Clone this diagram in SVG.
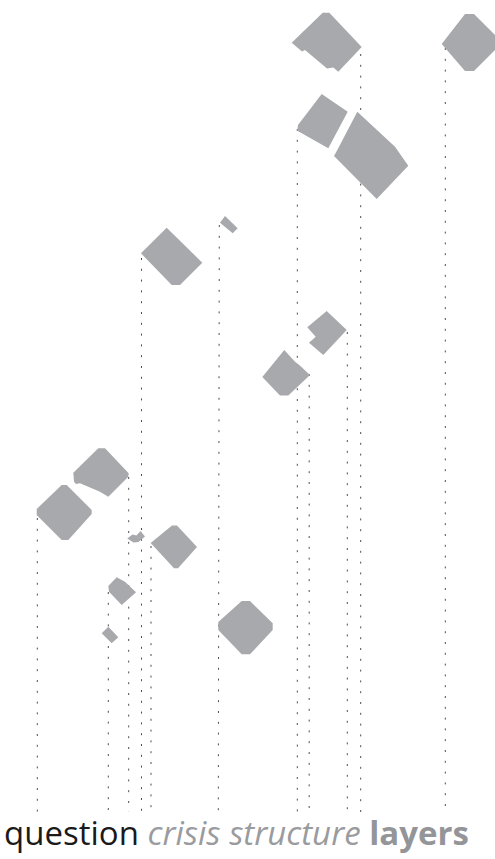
<svg xmlns="http://www.w3.org/2000/svg" width="495" height="859" viewBox="0 0 495 859">
<style>
.s{fill:#a7a9ac;stroke:none}
.d{stroke:#000;stroke-width:0.7;stroke-dasharray:2 8.8;fill:none}
.t{font-family:"Open Sans","Noto Sans","Liberation Sans",sans-serif;font-size:33px}
</style>
<rect width="495" height="859" fill="#fff"/>
<g id="connectors">
<line class="d" x1="37.3" y1="518" x2="37.3" y2="812"/>
<line class="d" x1="108.3" y1="592" x2="108.3" y2="812"/>
<line class="d" x1="128.7" y1="477" x2="128.7" y2="812"/>
<line class="d" x1="141.5" y1="258" x2="141.5" y2="812"/>
<line class="d" x1="151" y1="546" x2="151" y2="812"/>
<line class="d" x1="219.3" y1="225" x2="218.3" y2="812"/>
<line class="d" x1="297.3" y1="129" x2="297.3" y2="812"/>
<line class="d" x1="309.2" y1="374" x2="309.2" y2="812"/>
<line class="d" x1="347.3" y1="332" x2="347.3" y2="812"/>
<line class="d" x1="360.7" y1="54" x2="360.7" y2="812"/>
<line class="d" x1="445.3" y1="48" x2="445.3" y2="812"/>
</g>
<g id="shapeA"><path class="s" d="M291.7,42.7 L322.7,12.7 L329.3,12.7 L361.7,47 L338.3,71.7 L333.3,67.5 L327,68.5 L305,50 L302,51.5 Z"/></g>
<g id="shapeB"><path class="s" d="M441.7,44 L465,14 L474,14 L495,35 L495,50 L474,71 L465,71 Z"/></g>
<g id="shapeC"><path class="s" d="M298,125 L321.7,94 L347.7,111.7 L328.3,148.3 L297.3,130.7 Z"/></g>
<g id="shapeD"><path class="s" d="M357.3,111.7 L395,146.7 L408.3,165.7 L376.7,199 L334,156 L337.3,150 Z"/></g>
<g id="shapeE"><path class="s" d="M141,253.3 L166.7,227.7 L202.3,262.7 L180,285 L171.7,285 Z"/></g>
<g id="shapeF"><path class="s" d="M220,222.7 L225,216 L237.7,228.3 L232.7,233.3 Z"/></g>
<g id="shapeG"><path class="s" d="M307.3,327.3 L326.7,311 L346.7,330 L323.3,355 L309,342.7 L315.7,336.7 Z"/></g>
<g id="shapeH"><path class="s" d="M262.3,377 L284.3,350 L295,361.7 L299.3,365 L310,375 L288.3,395.5 L280,395.5 Z"/></g>
<g id="shapeI"><path class="s" d="M73.3,472.7 L98.3,448.3 L105,448.3 L128.7,473.3 L128.3,476.7 L108.3,496.7 L100,491.7 L80,483.3 L76,484 L74,481.7 Z"/></g>
<g id="shapeJ"><path class="s" d="M36.7,509 L61.7,485 L66.7,485 L91.7,510 L91.7,514 L68.3,540 L61.7,540 L36.7,515 Z"/></g>
<g id="shapeK"><path class="s" d="M127.3,538.5 L132.5,534.5 L136.5,535.5 L140.5,531 L145,536.5 L138.5,542 L133.5,542.5 Z"/></g>
<g id="shapeL"><path class="s" d="M150.7,543 L172,525.5 L177,525.5 L197,547 L178,568.3 L174,568.3 Z"/></g>
<g id="shapeM"><path class="s" d="M108.3,586 L116.7,577.3 L125,581.7 L136,592.3 L121.7,605 L109,591.7 Z"/></g>
<g id="shapeN"><path class="s" d="M101.7,633.3 L108.3,626.7 L118.3,637.3 L111.7,643.3 Z"/></g>
<g id="shapeO"><path class="s" d="M218.3,622 L241.7,601 L250,601 L272.7,623.3 L272.7,630 L250,654.3 L241.7,654.3 L218.3,630 Z"/></g>
<g id="caption">
<text class="t" x="4" y="845" fill="#1a1a1a">question <tspan fill="#9a9b9e" font-style="italic">crisis structure</tspan> <tspan fill="#939598" font-weight="bold">layers</tspan></text>
</g>
</svg>
